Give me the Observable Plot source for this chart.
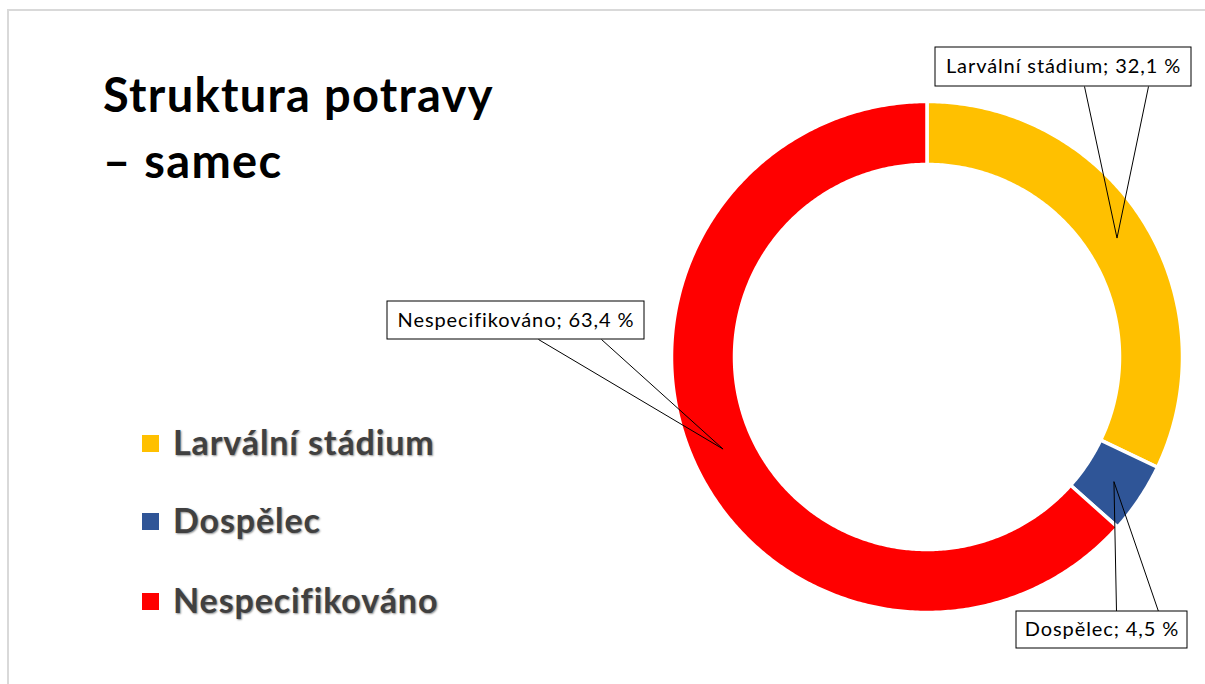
<!DOCTYPE html>
<html>
<head>
<meta charset="utf-8">
<script src="https://cdn.jsdelivr.net/npm/d3@7"></script>
<script src="https://cdn.jsdelivr.net/npm/@observablehq/plot@0.6"></script>
<style>
html,body{margin:0;padding:0;background:#fff;}
#page{position:relative;width:1205px;height:684px;overflow:hidden;font-family:Lato,"Open Sans",sans-serif;}
#frame{position:absolute;left:7px;top:9px;width:1400px;height:900px;border-left:2px solid #d9d9d9;border-top:2px solid #d9d9d9;}
#chart{position:absolute;left:0;top:0;}
.tline{position:absolute;left:103px;font-weight:700;font-size:47px;line-height:47px;letter-spacing:1.3px;color:#000;white-space:nowrap;}
.lrow{position:absolute;left:142px;height:40px;white-space:nowrap;}
.lsw{position:absolute;left:0;width:17px;height:17px;}
.ltx{position:absolute;left:31px;font-weight:700;font-size:34px;line-height:34px;letter-spacing:0.9px;color:#404040;text-shadow:1px 1px 2px rgba(0,0,0,0.45);}
</style>
</head>
<body>
<div id="page">
  <div id="frame"></div>
  <div id="chart"></div>
  <div id="title"></div>
  <div id="legend"></div>
</div>
<script>
// ---- data ----
const categories = ["Larvální stádium", "Dospělec", "Nespecifikováno"];
const values = [32.1, 4.5, 63.4];
const colors = ["#FFC000", "#2F5597", "#FF0000"];
const titleLines = ["Struktura potravy", "– samec"];

// ---- layout (pixels) ----
const W = 1205, H = 684;
const cx = 927, cy = 357, rOuter = 255.5, rInner = 192.5;
const labelBoxes = {
  "Larvální stádium": {x1: 935, x2: 1191, y1: 47, y2: 86, baseY: 86, baseX: [1084, 1148]},
  "Dospělec": {x1: 1016, x2: 1187, y1: 611, y2: 648, baseY: 611, baseX: [1116, 1158]},
  "Nespecifikováno": {x1: 387, x2: 644, y1: 301, y2: 339, baseY: 339, baseX: [538, 601]}
};

const total = d3.sum(values);
const slices = [];
let acc = 0;
categories.forEach((name, i) => {
  const a0 = acc / total * 2 * Math.PI;
  acc += values[i];
  const a1 = acc / total * 2 * Math.PI;
  slices.push({name, value: values[i], a0, a1});
});

// ring polygon samples (geometry of each slice's arc)
const arcPts = [];
for (const s of slices) {
  const n = Math.max(8, Math.ceil((s.a1 - s.a0) / 0.01));
  for (let k = 0; k <= n; k++) {
    const a = s.a0 + (s.a1 - s.a0) * k / n;
    arcPts.push({
      name: s.name,
      xi: cx + rInner * Math.sin(a), yi: cy - rInner * Math.cos(a),
      xo: cx + rOuter * Math.sin(a), yo: cy - rOuter * Math.cos(a)
    });
  }
}

const fmt = v => v.toFixed(1).replace(".", ",") + " %";
const rMid = (254 + 194) / 2;
const labels = slices.map(s => {
  const am = (s.a0 + s.a1) / 2;
  const b = labelBoxes[s.name];
  return {
    name: s.name,
    text: `${s.name}; ${fmt(s.value)}`,
    ax: cx + rMid * Math.sin(am), ay: cy - rMid * Math.cos(am),
    ...b
  };
});
const links = labels.flatMap(l => l.baseX.map(bx => ({x1: bx, y1: l.baseY, x2: l.ax, y2: l.ay})));

const chart = Plot.plot({
  width: W, height: H, margin: 0,
  x: {domain: [0, W], range: [0, W], axis: null},
  y: {domain: [0, H], range: [0, H], axis: null},
  color: {domain: categories, range: colors},
  style: {background: "transparent"},
  marks: [
    Plot.area(arcPts, {x1: "xi", y1: "yi", x2: "xo", y2: "yo", z: "name", fill: "name", stroke: "white", strokeWidth: 3.5}),
    Plot.link(links, {x1: "x1", y1: "y1", x2: "x2", y2: "y2", stroke: "black", strokeWidth: 1}),
    Plot.rect(labels, {x1: "x1", x2: "x2", y1: "y1", y2: "y2", fill: "white", stroke: "black", strokeWidth: 1}),
    Plot.text(labels, {x: d => (d.x1 + d.x2) / 2, y: d => (d.y1 + d.y2) / 2, text: "text", fontSize: 20, fill: "#000", fontFamily: "Lato, 'Open Sans', sans-serif"})
  ]
});
chart.querySelectorAll("text").forEach(t => t.style.letterSpacing = "0.9px");
document.getElementById("chart").appendChild(chart);

// title
const titleEl = document.getElementById("title");
const titleTops = [71, 137];
titleLines.forEach((t, i) => {
  const d = document.createElement("div");
  d.className = "tline";
  d.style.top = titleTops[i] + "px";
  d.textContent = t;
  titleEl.appendChild(d);
});

// legend
const legendEl = document.getElementById("legend");
const rowTops = [425, 503, 583];
categories.forEach((c, i) => {
  const row = document.createElement("div");
  row.className = "lrow";
  row.style.top = rowTops[i] + "px";
  const sw = document.createElement("div");
  sw.className = "lsw"; sw.style.top = "10px"; sw.style.background = colors[i];
  const tx = document.createElement("div");
  tx.className = "ltx"; tx.style.top = "0px"; tx.textContent = c;
  row.appendChild(sw); row.appendChild(tx);
  legendEl.appendChild(row);
});
</script>
</body>
</html>
